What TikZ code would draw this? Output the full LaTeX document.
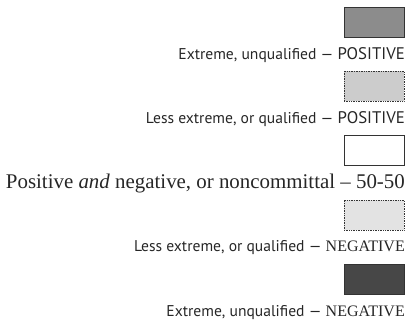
\documentclass[tikz,border=0pt]{standalone}
\usepackage{fontspec}
\setmainfont{Liberation Serif}
\newfontfamily\sansfam{PT Sans}
\usepackage{tikz}
\usetikzlibrary{calc}

% the two words on the right of each label
\newcommand{\posword}{{\sansfam\fontsize{16.8}{18}\selectfont POSITIVE}}
\newcommand{\negword}{{\rmfamily\fontsize{16}{18}\selectfont NEGATIVE}}
\newcommand{\sanslabel}{\sansfam\fontsize{15.6}{18}\selectfont}

\begin{document}
\begin{tikzpicture}[x=1pt,y=-1pt]
\pgfmathsetmacro{\W}{30} % half box width
\pgfmathsetmacro{\H}{15} % half box height
\pgfmathsetmacro{\D}{64.3} % row spacing
\useasboundingbox (0,0) rectangle (409,325);

% reference node, centre of the top box
\node (r) at (374,22) {};

% one row per shade: box, then its label below
\foreach \shade/\edge/\txt [count=\k] in {
 black!45/solid/{\sanslabel Extreme, unqualified \textemdash\ \posword},
 black!20/densely dotted/{\sanslabel Less extreme, or qualified \textemdash\ \posword},
 white/solid/{\fontsize{20.9}{22}\selectfont Positive \textit{and} negative, or noncommittal \textendash\ 50-50},
 black!11/densely dotted/{\sanslabel Less extreme, or qualified \textemdash\ \negword},
 black!72/solid/{\sanslabel Extreme, unqualified \textemdash\ \negword}}
{
\pgfmathsetmacro{\yy}{(\k-1)*\D}
\node[draw=black!80, line width=0.7pt, \edge, fill=\shade, minimum width=2*\W, minimum height=2*\H, inner sep=0] (b\k) at ($(r)+(0,\yy)$) {};

% label, right aligned with the box
\node[anchor=east, inner sep=0, text=black!85] (l\k) at ($(b\k)+(\W+1,\H+18)$) {\txt};
}
\end{tikzpicture}
\end{document}
